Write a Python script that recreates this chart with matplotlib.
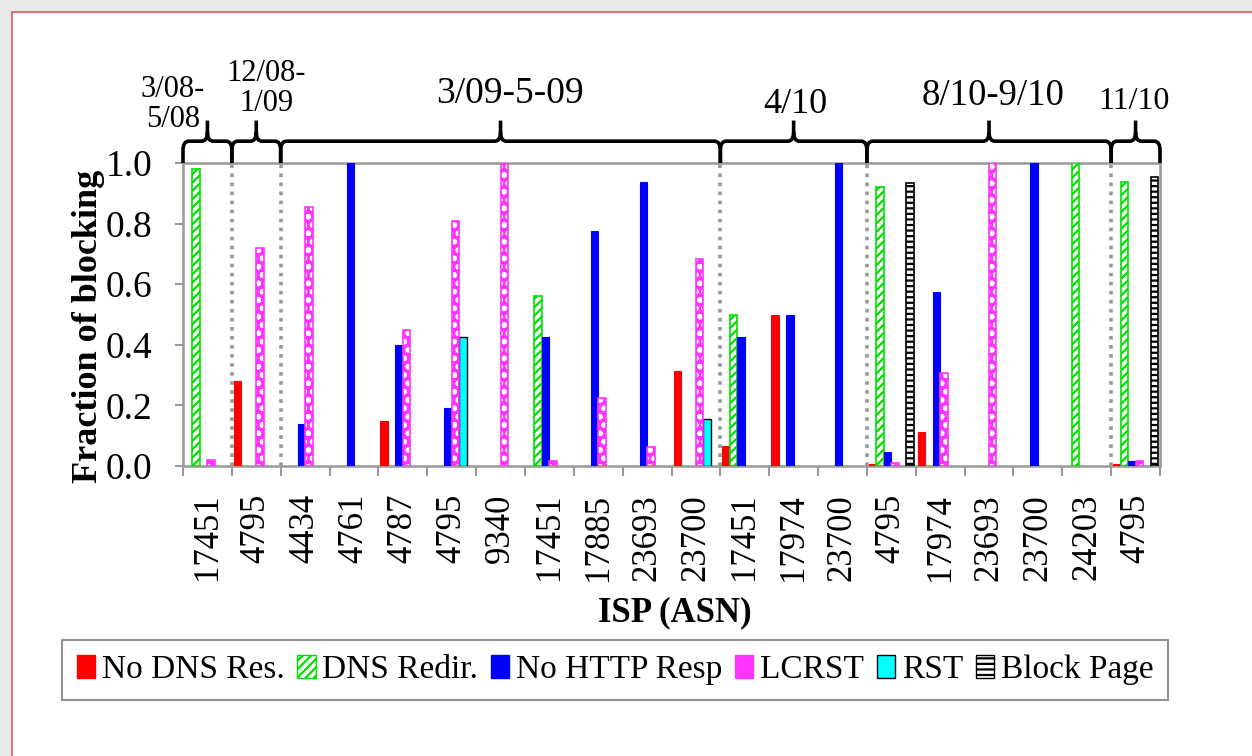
import matplotlib
matplotlib.use("Agg")
import matplotlib.pyplot as plt
import numpy as np
from matplotlib.patches import Patch, Rectangle, PathPatch
from matplotlib.path import Path
import matplotlib.transforms as mtransforms

plt.rcParams['font.family'] = ['Liberation Serif', 'DejaVu Serif']
plt.rcParams['hatch.linewidth'] = 1.6

asn = ['17451', '4795', '4434', '4761', '4787', '4795', '9340', '17451', '17885', '23693',
       '23700', '17451', '17974', '23700', '4795', '17974', '23693', '23700', '24203', '4795']

no_dns = [0, 0.28, 0, 0, 0.15, 0, 0, 0, 0, 0, 0.315, 0.066, 0.498, 0, 0.007, 0.113, 0, 0, 0, 0.008]
dns_redir = [0.98, 0, 0, 0, 0, 0, 0, 0.56, 0, 0, 0, 0.50, 0, 0, 0.92, 0, 0, 0, 1.0, 0.936]
no_http = [0, 0, 0.14, 1.0, 0.40, 0.19, 0, 0.425, 0.776, 0.936, 0, 0.427, 0.50, 1.0, 0.047, 0.575, 0, 1.0, 0, 0.015]
lcrst = [0.02, 0.72, 0.856, 0, 0.45, 0.81, 1.0, 0.015, 0.223, 0.064, 0.683, 0, 0, 0, 0.011, 0.308, 1.0, 0, 0, 0.015]
rst = [0, 0, 0, 0, 0, 0.427, 0, 0, 0, 0, 0.156, 0, 0, 0, 0, 0, 0, 0, 0, 0]
block_page = [0, 0, 0, 0, 0, 0, 0, 0, 0, 0, 0, 0, 0, 0, 0.935, 0, 0, 0, 0, 0.953]

series_names = ["No DNS Res.", "DNS Redir.", "No HTTP Resp", "LCRST", "RST", "Block Page"]

# period brackets: (first group, last group, label)
periods = [(0, 0, "3/08-\n5/08"), (1, 1, "12/08-\n1/09"), (2, 10, "3/09-5-09"),
           (11, 13, "4/10"), (14, 18, "8/10-9/10"), (19, 19, "11/10")]

fig = plt.figure(figsize=(12.52, 7.56), dpi=100)
fig.patch.set_facecolor('#e9e9e9')
fig.patches.append(Rectangle((12/1252, -0.05), 1.2, 1.05 - 12/756, transform=fig.transFigure,
                             facecolor='white', edgecolor='#e35a5a', linewidth=1.2, zorder=-5))
ax = fig.add_axes([183/1252, 1 - 466/756, 977/1252, 303/756])
ax.set_facecolor('none')

x = np.arange(len(asn))
w = 0.153

styles = [
    dict(facecolor='red', edgecolor='red', linewidth=0.8),
    dict(facecolor='white', edgecolor='#00e000', hatch='////', linewidth=1.2),
    dict(facecolor='blue', edgecolor='blue', linewidth=0.8),
    dict(facecolor='#ff33ff', edgecolor='white', hatch='oo', linewidth=0),
    dict(facecolor='cyan', edgecolor='black', linewidth=1.0),
    dict(facecolor='white', edgecolor='black', hatch='---', linewidth=1.2),
]

all_series = [no_dns, dns_redir, no_http, lcrst, rst, block_page]
for k, vals in enumerate(all_series):
    vals = np.array(vals)
    idx = np.where(vals > 0)[0]
    pos = x[idx] + (k - 2.5) * w
    ax.bar(pos, vals[idx], width=w, zorder=3, **styles[k])
    if k == 3:
        ax.bar(pos, vals[idx], width=w, fill=False, edgecolor='#ff33ff', linewidth=1.2, zorder=4)

# dotted period separators
for a, b, lab in periods[1:]:
    ax.axvline(a - 0.5, ymin=0, ymax=1, color='#999999', linestyle=(0, (1, 1.5)), linewidth=2.6, zorder=2)

ax.set_xlim(-0.5, len(asn) - 0.5)
ax.set_ylim(0, 1.0)
ax.set_yticks(np.arange(0, 1.01, 0.2))
ax.set_yticklabels(['%.1f' % v for v in np.arange(0, 1.01, 0.2)])
ax.set_xticks(x)
ax.set_xticklabels(asn, rotation=90)
ax.set_xticks(np.arange(-0.5, len(asn), 1), minor=True)
ax.tick_params(axis='x', which='major', length=0, pad=20, labelsize=25)
ax.tick_params(axis='x', which='minor', length=7, width=1.5, color='#999999')
ax.tick_params(axis='y', length=6, width=1.5, color='#999999', pad=16, labelsize=27)
for s in ax.spines.values():
    s.set_color('#999999')
    s.set_linewidth(1.8)

ax.set_ylabel("Fraction of blocking", fontsize=26, fontweight='bold')
ax.yaxis.set_label_coords(-0.08, 0.46)
ax.set_xlabel("ISP (ASN)", fontsize=25, fontweight='bold')
ax.xaxis.set_label_coords(0.5036, -0.43)

# braces above the plot
trans = mtransforms.blended_transform_factory(ax.transData, ax.transAxes)
base, tip, r, dx = 1.072, 1.14, 0.03, 0.12
for a, b, lab in periods:
    x0, x1 = a - 0.5, b + 0.5
    xm = (x0 + x1) / 2
    verts = [(x0, 1.0), (x0, base - r), (x0, base), (x0 + dx, base),
             (xm - dx, base), (xm, base), (xm, base + r), (xm, tip),
             (xm, base + r), (xm, base), (xm + dx, base),
             (x1 - dx, base), (x1, base), (x1, base - r), (x1, 1.0)]
    codes = [Path.MOVETO, Path.LINETO, Path.CURVE3, Path.CURVE3,
             Path.LINETO, Path.CURVE3, Path.CURVE3, Path.LINETO,
             Path.MOVETO, Path.CURVE3, Path.CURVE3,
             Path.LINETO, Path.CURVE3, Path.CURVE3, Path.LINETO]
    ax.add_patch(PathPatch(Path(verts, codes), transform=trans, fill=False,
                           edgecolor='black', linewidth=2.6, clip_on=False, zorder=5))

label_pos = [(-0.05, 1.095, 'right', 22), (1.2, 1.147, 'center', 22), (6.19, 1.17, 'center', 27),
             (12.03, 1.14, 'center', 26), (16.08, 1.165, 'center', 26.5), (18.97, 1.155, 'center', 23)]
for (a, b, lab), (lx, ly, ha, fs) in zip(periods, label_pos):
    ax.text(lx, ly, lab, transform=trans, ha=ha, va='bottom', fontsize=fs,
            multialignment='center', linespacing=1.05)

handles = [
    Patch(facecolor='red', edgecolor='red'),
    Patch(facecolor='white', edgecolor='#00e000', hatch='////'),
    Patch(facecolor='blue', edgecolor='blue'),
    Patch(facecolor='#ff33ff', edgecolor='#ff33ff', hatch='oo'),
    Patch(facecolor='cyan', edgecolor='black'),
    Patch(facecolor='white', edgecolor='black', hatch='---'),
]
leg = fig.legend(handles, series_names, loc='center', bbox_to_anchor=(615/1252, 1 - 670/756),
                 ncol=6, fontsize=24, frameon=True, fancybox=False, edgecolor='#777777',
                 handlelength=0.55, handleheight=0.7, handletextpad=0.2, columnspacing=0.38,
                 borderpad=0.45)
leg.get_frame().set_linewidth(1.5)

fig.savefig("out.png", dpi=100, facecolor=fig.get_facecolor())
